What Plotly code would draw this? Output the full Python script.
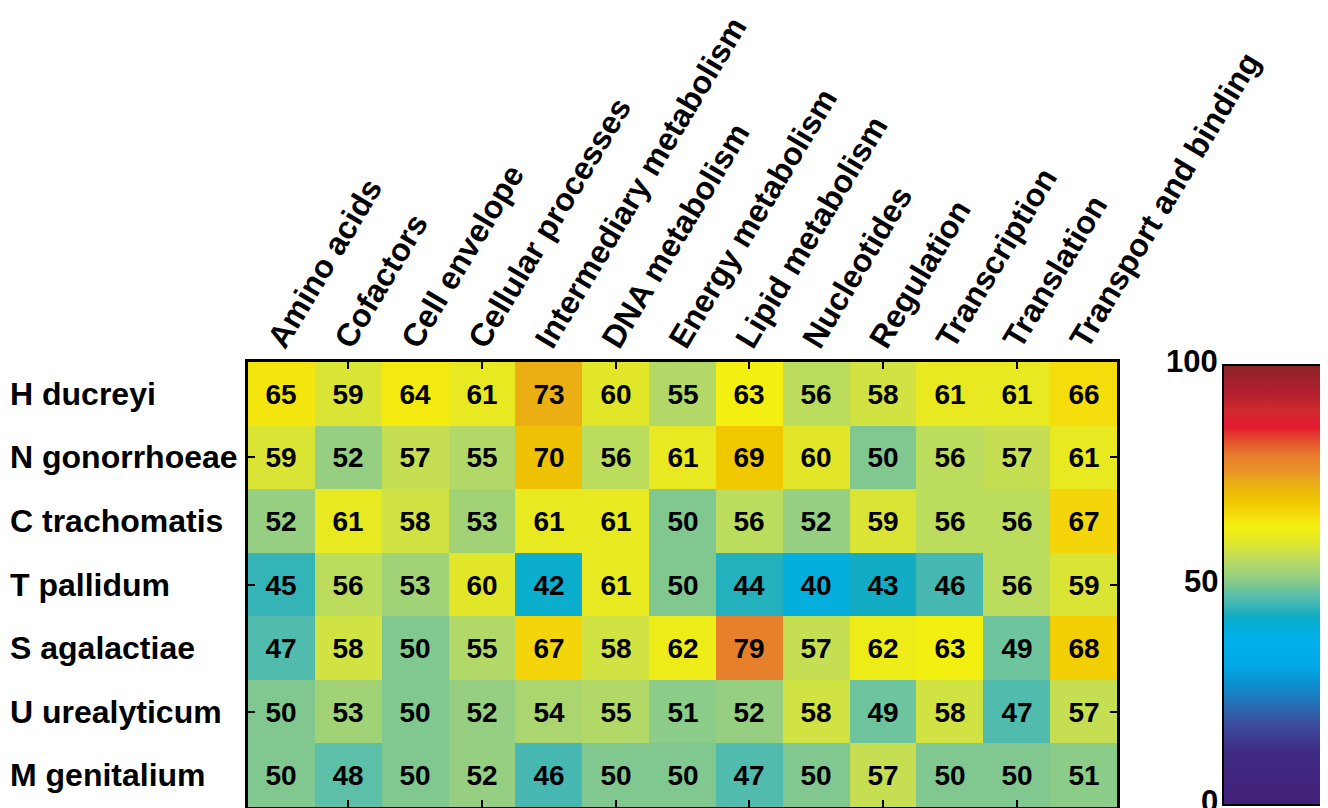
import plotly.graph_objects as go

categories = ["Amino acids", "Cofactors", "Cell envelope", "Cellular processes",
              "Intermediary metabolism", "DNA metabolism", "Energy metabolism",
              "Lipid metabolism", "Nucleotides", "Regulation", "Transcription",
              "Translation", "Transport and binding"]
organisms = ["H ducreyi", "N gonorrhoeae", "C trachomatis", "T pallidum",
             "S agalactiae", "U urealyticum", "M genitalium"]

h_ducreyi = [65, 59, 64, 61, 73, 60, 55, 63, 56, 58, 61, 61, 66]
n_gonorrhoeae = [59, 52, 57, 55, 70, 56, 61, 69, 60, 50, 56, 57, 61]
c_trachomatis = [52, 61, 58, 53, 61, 61, 50, 56, 52, 59, 56, 56, 67]
t_pallidum = [45, 56, 53, 60, 42, 61, 50, 44, 40, 43, 46, 56, 59]
s_agalactiae = [47, 58, 50, 55, 67, 58, 62, 79, 57, 62, 63, 49, 68]
u_urealyticum = [50, 53, 50, 52, 54, 55, 51, 52, 58, 49, 58, 47, 57]
m_genitalium = [50, 48, 50, 52, 46, 50, 50, 47, 50, 57, 50, 50, 51]

colorbar_labels = [0, 50, 100]

z = [h_ducreyi, n_gonorrhoeae, c_trachomatis, t_pallidum,
     s_agalactiae, u_urealyticum, m_genitalium]
col_idx = list(range(1, len(categories) + 1))
row_idx = list(range(1, len(organisms) + 1))

# spectral-like map
colorscale = [
    [0.00, "#43207a"], [0.12, "#3f2a82"], [0.15, "#3d3a8f"], [0.19, "#3a52a0"],
    [0.22, "#2a68b1"], [0.25, "#1b80c4"], [0.29, "#0798d8"], [0.32, "#00a9e6"],
    [0.37, "#00b1ec"], [0.41, "#06aed8"], [0.43, "#12adc4"], [0.46, "#46b8b1"],
    [0.48, "#5cbfa8"], [0.50, "#80c890"], [0.52, "#96cf81"], [0.53, "#a2d276"],
    [0.55, "#b2d868"], [0.57, "#c6df52"], [0.58, "#d1e243"], [0.60, "#e2e628"],
    [0.63, "#f3ef10"], [0.65, "#f5e50e"], [0.67, "#f4d40a"], [0.69, "#f0c800"],
    [0.73, "#ebaf14"], [0.76, "#e99028"], [0.79, "#e6802b"], [0.82, "#e65a2b"],
    [0.86, "#e31a30"], [0.90, "#cc2a2c"], [0.94, "#b01e30"], [1.00, "#8a2525"],
]

FONT = "Liberation Sans, Arial, sans-serif"

# plot area is 869 x 445 px; page body adds ~8px offset
PW, PH = 869, 445
cb_x = 975 / PW
cb_bot = 2 / PH
cb_top = 442 / PH

fig = go.Figure()
fig.add_trace(go.Heatmap(
    z=z, x=col_idx, y=row_idx,
    zmin=0, zmax=100,
    colorscale=colorscale,
    texttemplate="%{z}",
    textfont=dict(family=FONT, size=28, color="black", weight="bold"),
    hoverinfo="skip",
    colorbar=dict(
        x=cb_x, xanchor="left", xpad=0,
        y=(cb_bot + cb_top) / 2, yanchor="middle", ypad=0,
        lenmode="pixels", len=440,
        thickness=150,
        outlinecolor="black", outlinewidth=2,
        ticks="", showticklabels=False,
    ),
))

annotations = []
for i, name in enumerate(organisms):
    annotations.append(dict(
        x=-240 / PW, xref="paper", xanchor="left",
        y=row_idx[i], yref="y", yanchor="middle",
        text=name, showarrow=False,
        font=dict(family=FONT, size=32, color="black", weight="bold"),
    ))

shapes = []
for v in colorbar_labels:
    yy = cb_bot + v / 100 * (cb_top - cb_bot)
    annotations.append(dict(
        x=cb_x, xref="paper", xanchor="right", xshift=-3,
        y=yy, yref="paper", yanchor="middle", yshift=4,
        text=str(v), showarrow=False,
        font=dict(family=FONT, size=31, color="black", weight="bold"),
    ))
    shapes.append(dict(
        type="line", xref="paper", yref="paper", xsizemode="pixel",
        xanchor=cb_x, x0=0, x1=5, y0=yy, y1=yy,
        line=dict(color="black", width=2),
    ))

fig.update_xaxes(
    range=[0.5, len(categories) + 0.5],
    side="top",
    tickvals=col_idx, ticktext=categories,
    tickangle=-59,
    tickfont=dict(family=FONT, size=32, color="black", weight="bold"),
    ticklabelstandoff=-12, ticklabelshift=-10,
    ticks="",
    minor=dict(tickvals=col_idx[1::2], ticks="inside", ticklen=7,
               tickwidth=2, tickcolor="black"),
    showline=True, linecolor="black", linewidth=3, mirror="ticks",
    showgrid=False, zeroline=False,
)
fig.update_yaxes(
    range=[len(organisms) + 0.5, 0.5],
    tickvals=row_idx, showticklabels=False,
    ticks="",
    minor=dict(tickvals=row_idx[1::2], ticks="inside", ticklen=7,
               tickwidth=2, tickcolor="black"),
    showline=True, linecolor="black", linewidth=3, mirror="ticks",
    showgrid=False, zeroline=False,
)

fig.update_layout(
    width=1328, height=808,
    margin=dict(l=240, r=219, t=354, b=9, autoexpand=False),
    paper_bgcolor="white", plot_bgcolor="white",
    font=dict(family=FONT, color="black"),
    annotations=annotations,
    shapes=shapes,
    showlegend=False,
)

fig.write_html("out.html")
